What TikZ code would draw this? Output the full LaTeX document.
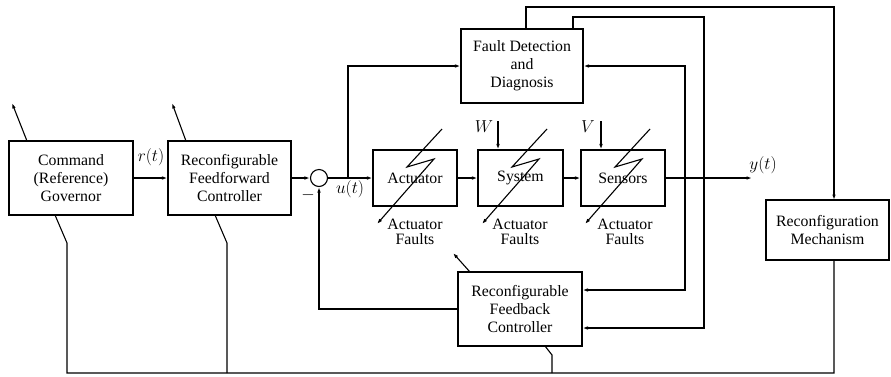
\documentclass[tikz,border=0pt]{standalone}
\usepackage[no-math]{fontspec}
\setmainfont{Liberation Serif}
\usetikzlibrary{arrows.meta}
\begin{document}
\begin{tikzpicture}[x=1pt,y=-1pt,
  line width=1.1pt,
  >={Latex[length=5.5pt,width=3.6pt]},
  txt/.style={font=\fontsize{15.8}{18}\selectfont, align=center, inner sep=0pt},
  box/.style={draw, txt, rectangle},
  flt/.style={font=\fontsize{15.8}{15}\selectfont, align=center, inner sep=0pt},
  lbl/.style={font=\fontsize{17.28}{20}\selectfont, inner sep=0pt}
]
\useasboundingbox (0,0) rectangle (891,376);

% blocks
\node[box, minimum width=124pt, minimum height=74pt] (gov) at (71,178) {Command\\(Reference)\\Governor};
\node[box, minimum width=123pt, minimum height=74pt] (ff) at (229.5,178) {Reconfigurable\\Feedforward\\Controller};
\node[draw, circle, minimum size=17pt, inner sep=0pt] (sum) at (319,178) {};
\node[box, minimum width=84pt, minimum height=56pt] (act) at (415,178) {Actuator};
\node[box, minimum width=85pt, minimum height=56pt] (sys) at (520.5,178) {System};
\node[box, minimum width=84pt, minimum height=56pt] (sen) at (623,178) {Sensors};
\node[box, minimum width=122pt, minimum height=74pt] (fdd) at (522,66) {Fault Detection\\and\\Diagnosis};
\node[box, minimum width=124pt, minimum height=74pt] (fb) at (520,309) {Reconfigurable\\Feedback\\Controller};
\node[box, minimum width=123pt, minimum height=60pt] (rm) at (827.5,230) {Reconfiguration\\Mechanism};

% labels
\node[lbl] (rl) at (151,157) {$r(t)$};
\node[lbl] (ul) at (350,189) {$u(t)$};
\node[lbl] (yl) at (763,165) {$y(t)$};
\node[lbl] (ml) at (308,195) {$-$};
\node[lbl] (wl) at (484,127) {$W$};
\node[lbl] (vl) at (588,127) {$V$};
\node[flt] (f1) at (415,232) {Actuator\\Faults};
\node[flt] (f2) at (520,232) {Actuator\\Faults};
\node[flt] (f3) at (625,232) {Actuator\\Faults};

% coordinates
\coordinate (tap) at (348,178);
\coordinate (yout) at (752,178);
\coordinate (wtop) at (498,121);
\coordinate (vtop) at (601,121);
\coordinate (y1) at (685,178);

% main path
\draw[->] (gov.east) -- (ff.west);
\draw[->] (ff.east) -- (sum.west);
\draw[->] (sum.east) -- (act.west);
\draw[->] (act.east) -- (sys.west);
\draw[->] (sys.east) -- (sen.west);
\draw[->] (sen.east) -- (yout);
\draw[->] (tap) |- (fdd.west);
\draw[->] (wtop) -- (wtop |- sys.north);
\draw[->] (vtop) -- (vtop |- sen.north);

% feedback to fdd and fb
\draw[->] (y1) |- (fdd.east);
\draw[->] (y1) |- ([yshift=19pt]fb.east);
\draw[->] (573,29) -- (573,17) -- (704,17) |- ([yshift=-19pt]fb.east);
\draw[->] (526,29) -- (526,7) -- (834,7) -- (834,200);
\draw[->] (fb.west) -| (sum.south);

% lightning arrows
\foreach \d in {0,105,208}{
  \draw[->] (442+\d,129) -- (407+\d,167) -- (434+\d,159) -- (377+\d,224);
}

% adjustment arrows
\draw[->] (27,141) -- (12,103);
\draw[->] (186,141) -- (172,103);
\draw[->] (470,272) -- (453,253);

% bottom bus
\draw (55,215) -- (67,243) -- (67,373) -- (834,373) -- (834,260);
\draw (215,215) -- (227,243) -- (227,373);
\draw (545,346) -- (552,355) -- (552,373);
\end{tikzpicture}
\end{document}
